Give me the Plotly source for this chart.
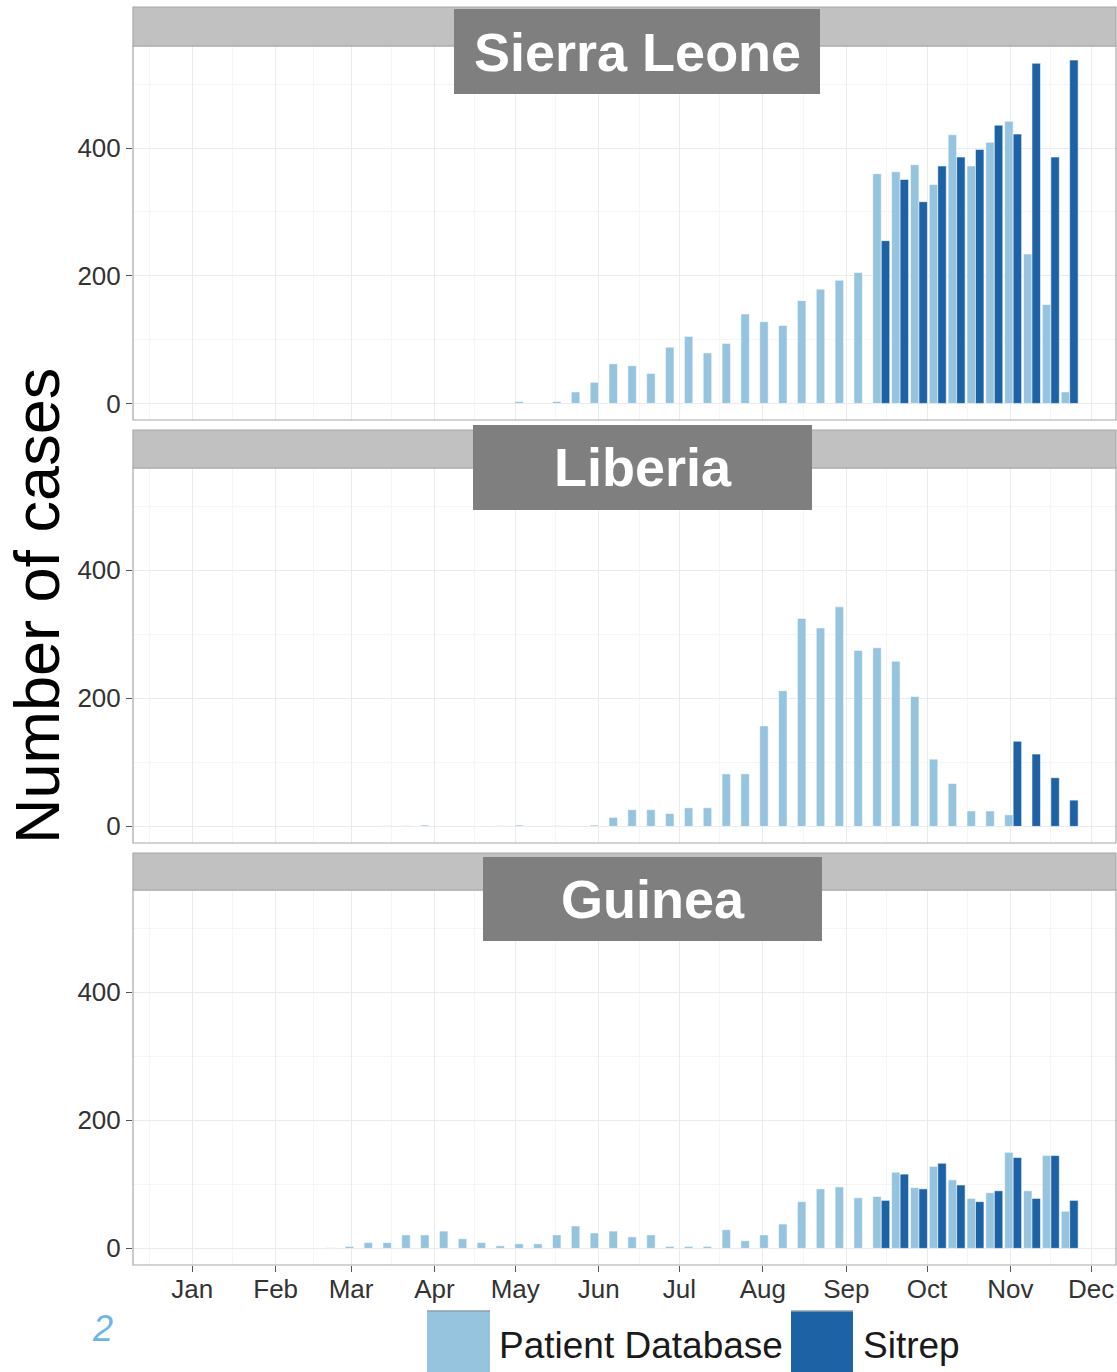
import plotly.graph_objects as go
from plotly.subplots import make_subplots

# ---------------- data ----------------
weeks = ["2014-02-23", "2014-03-02", "2014-03-09", "2014-03-16", "2014-03-23", "2014-03-30",
         "2014-04-06", "2014-04-13", "2014-04-20", "2014-04-27", "2014-05-04", "2014-05-11",
         "2014-05-18", "2014-05-25", "2014-06-01", "2014-06-08", "2014-06-15", "2014-06-22",
         "2014-06-29", "2014-07-06", "2014-07-13", "2014-07-20", "2014-07-27", "2014-08-03",
         "2014-08-10", "2014-08-17", "2014-08-24", "2014-08-31", "2014-09-07", "2014-09-14",
         "2014-09-21", "2014-09-28", "2014-10-05", "2014-10-12", "2014-10-19", "2014-10-26",
         "2014-11-02", "2014-11-09", "2014-11-16", "2014-11-23"]

N = None
sl_patient = [N, N, N, N, N, N, N, N, N, N, 3, N, 3, 18, 33, 62, 59, 47, 88, 105, 79, 94, 140, 128,
              122, 161, 179, 193, 205, 360, 363, 374, 343, 421, 372, 409, 442, 234, 155, 18]
sl_sitrep = [N] * 29 + [255, 351, 316, 372, 386, 398, 436, 422, 533, 386, 538]

lr_patient = [N, N, N, 1, 1, 2, N, N, N, 1, 2, N, 1, N, 2, 14, 26, 26, 20, 29, 29, 82, 82, 157,
              212, 325, 310, 343, 275, 279, 258, 203, 105, 67, 24, 24, 18, N, N, N]
lr_sitrep = [N] * 36 + [133, 113, 76, 41]

gn_patient = [1, 3, 9, 9, 21, 21, 27, 15, 9, 4, 7, 7, 21, 35, 24, 27, 18, 21, 3, 3, 3, 29, 12, 21,
              38, 73, 93, 96, 79, 81, 119, 95, 128, 107, 78, 87, 150, 90, 145, 58]
gn_sitrep = [N] * 29 + [75, 116, 93, 133, 99, 73, 90, 142, 78, 145, 75]

countries = ["Sierra Leone", "Liberia", "Guinea"]
patient_series = [sl_patient, lr_patient, gn_patient]
sitrep_series = [sl_sitrep, lr_sitrep, gn_sitrep]
series_names = ["Patient Database", "Sitrep"]

month_ticks = ["2014-01-01", "2014-02-01", "2014-03-01", "2014-04-01", "2014-05-01", "2014-06-01",
               "2014-07-01", "2014-08-01", "2014-09-01", "2014-10-01", "2014-11-01", "2014-12-01"]
month_labels = ["Jan", "Feb", "Mar", "Apr", "May", "Jun", "Jul", "Aug", "Sep", "Oct", "Nov", "Dec"]
minor_ticks = ["2013-12-16", "2014-01-16", "2014-02-15", "2014-03-16", "2014-04-16", "2014-05-16",
               "2014-06-16", "2014-07-16", "2014-08-16", "2014-09-16", "2014-10-16", "2014-11-16"]
y_ticks = [0, 200, 400]

# ---------------- style / layout helpers ----------------
LIGHT = "#96c3de"
DARK = "#1d62a5"
W, H = 1117, 1372
L, R = 133, 0
PW = W - L - R


def X(px):
    return (px - L) / PW


def Y(py):
    return 1 - py / H


panels = [(46, 420), (468, 843), (890, 1265)]
strips = [(7, 46), (430, 468), (853, 890)]
boxes = [(454, 820, 9, 94), (473, 812, 425, 510), (483, 822, 857, 941)]

fig = make_subplots(rows=3, cols=1, shared_xaxes=True, vertical_spacing=0.02)

for i in range(3):
    fig.add_trace(go.Bar(x=weeks, y=patient_series[i], name=series_names[0],
                         marker=dict(color=LIGHT, line=dict(color="rgba(255,255,255,0.8)", width=0.7)),
                         showlegend=False), row=i + 1, col=1)
    fig.add_trace(go.Bar(x=weeks, y=sitrep_series[i], name=series_names[1],
                         marker=dict(color=DARK, line=dict(color="rgba(255,255,255,0.8)", width=0.7)),
                         showlegend=False), row=i + 1, col=1)

fig.update_layout(width=W, height=H, margin=dict(l=L, r=R, t=0, b=0),
                  paper_bgcolor="white", plot_bgcolor="white",
                  barmode="group", bargap=0.1, bargroupgap=0.0,
                  font=dict(family="Liberation Sans, Arial, sans-serif", color="#333333"))

for i in range(3):
    yname = "yaxis" if i == 0 else f"yaxis{i + 1}"
    xname = "xaxis" if i == 0 else f"xaxis{i + 1}"
    top, bot = panels[i]
    fig.layout[yname].update(domain=[Y(bot), Y(top)], range=[-26, 560],
                             tickvals=y_ticks, ticks="outside", ticklen=6, tickcolor="#555555",
                             tickfont=dict(size=26, color="#333333"),
                             showgrid=True, gridcolor="#ebebeb", gridwidth=1, zeroline=False,
                             minor=dict(tickvals=[100, 300, 500], showgrid=True,
                                        gridcolor="#f5f5f5", gridwidth=1, ticks=""))
    fig.layout[xname].update(type="date", range=["2013-12-10", "2014-12-10 14:00"],
                             tickvals=month_ticks, ticktext=month_labels,
                             showgrid=True, gridcolor="#ebebeb", gridwidth=1,
                             minor=dict(tickvals=minor_ticks, showgrid=True,
                                        gridcolor="#f5f5f5", gridwidth=1, ticks=""),
                             showticklabels=(i == 2), ticks="outside" if i == 2 else "",
                             ticklen=6, tickcolor="#555555",
                             tickfont=dict(size=26, color="#333333"))
fig.layout.xaxis3.update(ticklabelstandoff=-5)

shapes = []
annotations = []
for i in range(3):
    top, bot = panels[i]
    shapes.append(dict(type="rect", xref="paper", yref="paper", x0=X(133), x1=X(1116),
                       y0=Y(bot), y1=Y(top), line=dict(color="#a8a8a8", width=1.2),
                       fillcolor="rgba(0,0,0,0)", layer="above"))
    st, sb = strips[i]
    shapes.append(dict(type="rect", xref="paper", yref="paper", x0=X(133), x1=X(1116),
                       y0=Y(sb), y1=Y(st), line=dict(color="#a8a8a8", width=1.2),
                       fillcolor="#c1c1c1", layer="above"))
    bx0, bx1, by0, by1 = boxes[i]
    shapes.append(dict(type="rect", xref="paper", yref="paper", x0=X(bx0), x1=X(bx1),
                       y0=Y(by1), y1=Y(by0), line=dict(width=0),
                       fillcolor="#7f7f7f", layer="above"))
    annotations.append(dict(text=f"<b>{countries[i]}</b>", xref="paper", yref="paper",
                            x=X((bx0 + bx1) / 2), y=Y((by0 + by1) / 2),
                            xanchor="center", yanchor="middle", showarrow=False,
                            font=dict(size=54, color="white",
                                      family="Liberation Sans, Arial, sans-serif")))

# y-axis title
annotations.append(dict(text="Number of cases", xref="paper", yref="paper",
                        x=X(37), y=Y(606), xanchor="center", yanchor="middle",
                        textangle=-90, showarrow=False,
                        font=dict(size=63, color="black",
                                  family="Liberation Sans, Arial, sans-serif")))

# legend
leg = [(427, 490, LIGHT, series_names[0], 497), (791, 853, DARK, series_names[1], 861)]
for x0, x1, col, name, tx in leg:
    shapes.append(dict(type="rect", xref="paper", yref="paper", x0=X(x0), x1=X(x1),
                       y0=Y(1372), y1=Y(1311), line=dict(width=0), fillcolor=col))
    shapes.append(dict(type="line", xref="paper", yref="paper", x0=X(x0), x1=X(x1),
                       y0=Y(1311), y1=Y(1311), line=dict(color="#8aa0b0", width=1.5)))
    annotations.append(dict(text=name, xref="paper", yref="paper", x=X(tx), y=Y(1345),
                            xanchor="left", yanchor="middle", showarrow=False,
                            font=dict(size=37, color="#1a1a1a",
                                      family="Liberation Sans, Arial, sans-serif")))

# slide page-number fragment
annotations.append(dict(text="<i>2</i>", xref="paper", yref="paper", x=X(102), y=Y(1328),
                        xanchor="center", yanchor="middle", showarrow=False,
                        font=dict(size=36, color="#6cb6e6",
                                  family="Liberation Sans, Arial, sans-serif")))

fig.update_layout(shapes=shapes, annotations=annotations)

fig.write_html("out.html", config={"displayModeBar": False},
               post_script="document.body.style.margin='0';document.body.style.overflow='hidden';")
